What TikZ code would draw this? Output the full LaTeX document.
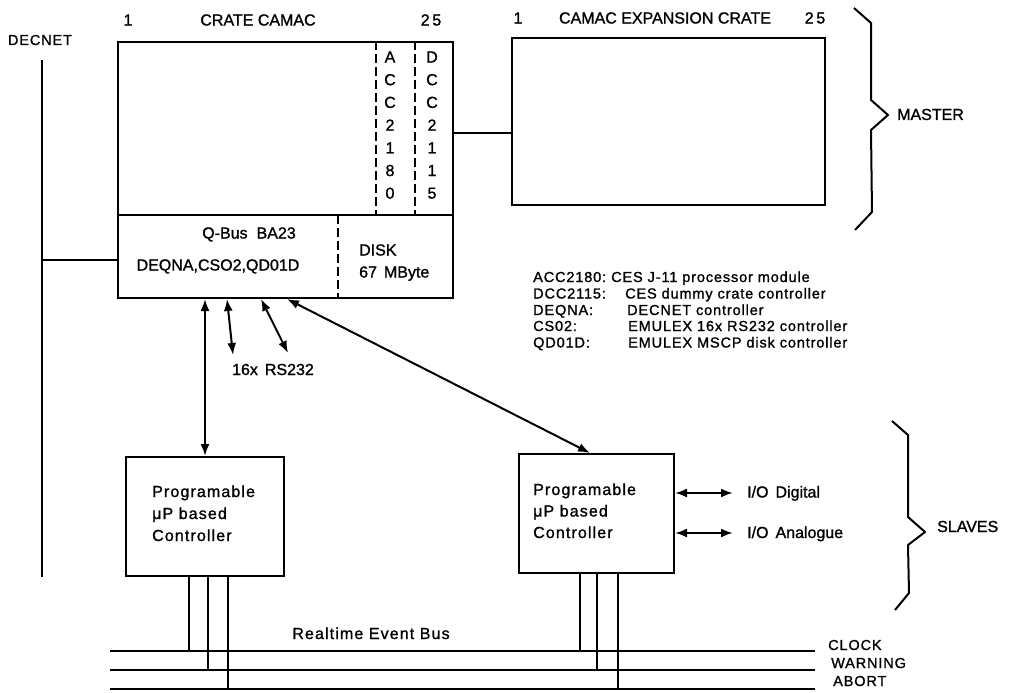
\documentclass[tikz,border=0pt]{standalone}
\usepackage{fontspec}
\setmainfont{Liberation Sans}[FakeBold=1.2]
\usetikzlibrary{arrows.meta,calc}
\begin{document}
\begin{tikzpicture}[x=1pt,y=-1pt,
  box/.style={draw,line width=2pt,inner sep=0pt},
  ln/.style={line width=2pt},
  legline/.style={line width=1.5pt},
  dsh/.style={line width=2pt,dash pattern=on 9pt off 4pt},
  arr/.style={line width=2pt,{Latex[length=12pt,width=9pt]}-{Latex[length=12pt,width=9pt]}},
  hdr/.style={inner sep=0pt,font=\fontsize{16}{19}\selectfont},
  lbl/.style={inner sep=0pt,font=\fontsize{16}{19}\selectfont},
  ctl/.style={inner sep=0pt,font=\fontsize{16}{19}\selectfont\addfontfeature{LetterSpace=7}},
  small/.style={inner sep=0pt,font=\fontsize{14.5}{17}\selectfont\addfontfeature{LetterSpace=6}},
]
\useasboundingbox (0,0) rectangle (1010,693);

% main boxes
\node[box,minimum width=335pt,minimum height=256pt] (crate) at (285.5,170) {};
\node[box,minimum width=313pt,minimum height=167pt] (exp) at (668.5,121.5) {};
\node[box,minimum width=158pt,minimum height=119pt] (ctrl1) at (205,516.5) {};
\node[box,minimum width=155pt,minimum height=119pt] (ctrl2) at (596.5,513.5) {};

% crate internals
\coordinate (div) at (0,215);
\coordinate (dA) at (376,0);
\coordinate (dB) at (415,0);
\coordinate (dQ) at (338,0);
\draw[ln] (crate.west |- div) -- (crate.east |- div);
\draw[dsh] (crate.north -| dA) -- (div -| dA);
\draw[dsh] (crate.north -| dB) -- (div -| dB);
\draw[dsh] (div -| dQ) -- (crate.south -| dQ);
\foreach \c [count=\i from 0] in {A,C,C,2,1,8,0}
  \node[lbl] (acc\i) at (390,{57+22.7*\i}) {\c};
\foreach \c [count=\i from 0] in {D,C,C,2,1,1,5}
  \node[lbl] (dcc\i) at (432,{57+22.7*\i}) {\c};

% headers
\node[hdr] (h1) at (128,20) {1};
\node[hdr] (hcc) at (258,20) {CRATE CAMAC};
\node[hdr] (h25) at (431,20) {2\,5};
\node[hdr] (e1) at (518,18) {1};
\node[hdr] (ecc) at (665,18) {CAMAC EXPANSION CRATE};
\node[hdr] (e25) at (815,18) {2\,5};

% crate to expansion link
\coordinate (lk) at (0,133);
\draw[ln] (crate.east |- lk) -- (exp.west |- lk);

% DECNET
\node[small] (decnet) at (40,40) {DECNET};
\coordinate (dnT) at (42,60);
\coordinate (dnB) at (42,577);
\draw[ln] (dnT) -- (dnB);
\coordinate (dq) at (42,260);
\draw[ln] (dq) -- (crate.west |- dq);

% Q-bus labels
\node[lbl,anchor=base] (qb) at (249,238.5) {Q-Bus\hspace{9pt}BA23};
\node[lbl,anchor=base] (dqn) at (218,270.5) {DEQNA,CSO2,QD01D};
\node[lbl,anchor=base west] (disk) at (359,255.5) {DISK};
\node[lbl,anchor=base west] (mb) at (359,277.5) {67\hspace{7pt}MByte};

% arrows from crate
\coordinate (s2) at (227,0);
\coordinate (s3) at (261,0);
\coordinate (s4) at (287,0);
\coordinate (t4) at (590,0);
\coordinate (r1) at (233,355);
\coordinate (r2) at (288,353);
\draw[arr] (crate.south -| ctrl1.north) -- (ctrl1.north);
\draw[arr] (crate.south -| s2) -- (r1);
\draw[arr] (crate.south -| s3) -- (r2);
\draw[arr] (crate.south -| s4) -- (ctrl2.north -| t4);
\node[lbl,anchor=base] (rs) at (273,375) {16x\hspace{7pt}RS232};

% legend
\node[small,anchor=base west] (k1) at (533,282) {ACC2180:};
\node[small,anchor=base west] (v1) at (611,282) {CES J-11 processor module};
\node[small,anchor=base west] (k2) at (533,298.5) {DCC2115:};
\node[small,anchor=base west] (v2) at (625,298.5) {CES dummy crate controller};
\node[small,anchor=base west] (k3) at (533,315) {DEQNA:};
\node[small,anchor=base west] (v3) at (627,315) {DECNET controller};
\node[small,anchor=base west] (k4) at (533,331) {CS02:};
\node[small,anchor=base west] (v4) at (628,331) {EMULEX 16x RS232 controller};
\node[small,anchor=base west] (k5) at (533,347.5) {QD01D:};
\node[small,anchor=base west] (v5) at (628,347.5) {EMULEX MSCP disk controller};

% controller texts
\node[ctl,anchor=base west] (p1a) at (152,497) {Programable};
\node[ctl,anchor=base west] (p1b) at (152,519) {μP based};
\node[ctl,anchor=base west] (p1c) at (152,541) {Controller};
\node[ctl,anchor=base west] (p2a) at (533,495) {Programable};
\node[ctl,anchor=base west] (p2b) at (533,516.5) {μP based};
\node[ctl,anchor=base west] (p2c) at (533,538) {Controller};

% I/O
\coordinate (io1) at (733,493);
\coordinate (io2) at (733,533);
\draw[arr] (ctrl2.east |- io1) -- (io1);
\draw[arr] (ctrl2.east |- io2) -- (io2);
\node[lbl,anchor=base west] (iod) at (747,497.5) {I/O\hspace{7pt}Digital};
\node[lbl,anchor=base west] (ioa) at (747,538) {I/O\hspace{7pt}Analogue};

% bus
\coordinate (clkL) at (110,651);
\coordinate (clkR) at (815,651);
\coordinate (warL) at (110,670);
\coordinate (warR) at (815,670);
\coordinate (abL) at (110,689);
\coordinate (abR) at (815,689);
\draw[ln] (clkL) -- (clkR);
\draw[ln] (warL) -- (warR);
\draw[ln] (abL) -- (abR);
\coordinate (l1) at (189,0);
\coordinate (l2) at (208,0);
\coordinate (l3) at (228,0);
\coordinate (l4) at (580,0);
\coordinate (l5) at (597,0);
\coordinate (l6) at (618,0);
\draw[legline] (ctrl1.south -| l1) -- (clkL -| l1);
\draw[legline] (ctrl1.south -| l2) -- (warL -| l2);
\draw[legline] (ctrl1.south -| l3) -- (abL -| l3);
\draw[legline] (ctrl2.south -| l4) -- (clkL -| l4);
\draw[legline] (ctrl2.south -| l5) -- (warL -| l5);
\draw[legline] (ctrl2.south -| l6) -- (abL -| l6);
\node[ctl,anchor=base] (reb) at (371,639) {Realtime Event Bus};
\node[small,anchor=base west] (clk) at (828,650) {CLOCK};
\node[small,anchor=base west] (war) at (831,668) {WARNING};
\node[small,anchor=base west] (abt) at (833,686) {ABORT};

% braces
\draw[ln,line join=round] (854,8) -- (871,23) -- (871,100) -- (888,115) -- (871,130) -- (872,212) -- (855,230);
\node[lbl,anchor=base west] (mst) at (897,120) {MASTER};
\draw[ln,line join=round] (892,421) -- (908,435) -- (908,517) -- (925,532) -- (908,545) -- (909,593) -- (895,610);
\node[lbl,anchor=base west] (slv) at (937,532) {SLAVES};
\end{tikzpicture}
\end{document}
